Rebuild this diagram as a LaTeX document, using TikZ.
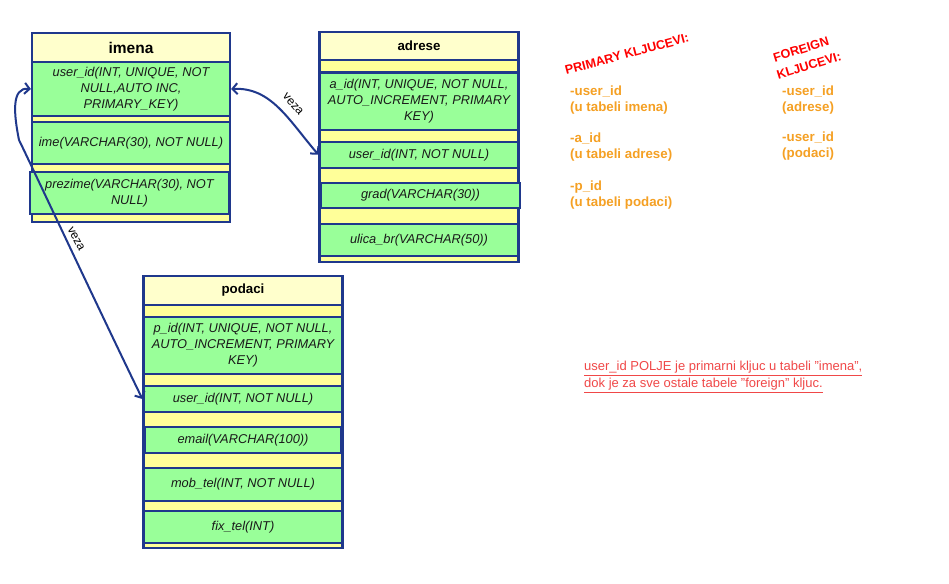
\documentclass[tikz,border=0pt]{standalone}
\usepackage{fontspec}
\setmainfont{Liberation Sans}
\usetikzlibrary{arrows.meta}
\definecolor{navy}{RGB}{31,56,140}
\definecolor{rowgreen}{RGB}{153,255,153}
\definecolor{stripe}{RGB}{255,255,153}
\definecolor{headfill}{RGB}{255,255,204}
\definecolor{keyorange}{RGB}{245,160,35}
\definecolor{notered}{RGB}{240,72,72}
\begin{document}
\begin{tikzpicture}[x=1pt,y=-1pt,
  tbl/.style={draw=navy, fill=stripe, line width=2.2pt, inner sep=0pt, rectangle},
  head/.style={draw=navy, fill=headfill, line width=2.2pt, inner sep=0pt, font=\bfseries\fontsize{13.3}{15}\selectfont},
  field/.style={draw=navy, fill=rowgreen, line width=2.2pt, inner sep=0pt, align=center, font=\itshape\fontsize{12.8}{16}\selectfont, text=black!90},
  conn/.style={draw=navy, line width=2pt, {Straight Barb[length=5pt,width=11pt]}-{Straight Barb[length=5pt,width=11pt]}},
  lbl/.style={font=\fontsize{12}{14}\selectfont, inner sep=1pt},
  redtitle/.style={font=\bfseries\fontsize{12.6}{15}\selectfont, text=red, inner sep=0pt},
  okey/.style={font=\bfseries\fontsize{13.3}{16}\selectfont, text=keyorange, align=left, anchor=west, inner sep=0pt},
  note/.style={font=\fontsize{13}{17}\selectfont, text=notered, align=left, anchor=west, inner sep=0pt}
]
\fill[white] (0,0) rectangle (949,583);
\useasboundingbox (0,0) rectangle (949,583);

% ---------- imena ----------
\node[tbl, minimum width=198pt, minimum height=189pt] (imena) at (131,127.5) {};
\node[head, minimum width=198pt, minimum height=29pt, font=\bfseries\fontsize{15.5}{17}\selectfont] (ihead) at (131,47.5) {imena};
\node[field, minimum width=198pt, minimum height=54pt] (iuid) at (131,89) {user\_id(INT, UNIQUE, NOT\\NULL,AUTO INC,\\PRIMARY\_KEY)};
\node[field, minimum width=198pt, minimum height=42pt] (iime) at (131,143) {ime(VARCHAR(30), NOT NULL)};
\node[field, minimum width=199pt, minimum height=42pt] (iprez) at (129.5,193) {prezime(VARCHAR(30), NOT\\NULL)};

% ---------- adrese ----------
\node[tbl, minimum width=199pt, minimum height=230pt] (adrese) at (419,147) {};
\node[head, minimum width=199pt, minimum height=28pt] (ahead) at (419,46) {adrese};
\node[field, minimum width=199pt, minimum height=57.5pt] (aaid) at (419,101.3) {a\_id(INT, UNIQUE, NOT NULL,\\AUTO\_INCREMENT, PRIMARY\\KEY)};
\node[field, minimum width=199pt, minimum height=26pt] (auid) at (419,154.7) {user\_id(INT, NOT NULL)};
\node[field, minimum width=199pt, minimum height=25.6pt] (agrad) at (420.5,195.5) {grad(VARCHAR(30))};
\node[field, minimum width=199pt, minimum height=31.7pt] (aulica) at (419,240) {ulica\_br(VARCHAR(50))};

% ---------- podaci ----------
\node[tbl, minimum width=199pt, minimum height=272pt] (podaci) at (243,412) {};
\node[head, minimum width=199pt, minimum height=29pt] (phead) at (243,290.5) {podaci};
\node[field, minimum width=199pt, minimum height=57pt] (ppid) at (243,345.5) {p\_id(INT, UNIQUE, NOT NULL,\\AUTO\_INCREMENT, PRIMARY\\KEY)};
\node[field, minimum width=199pt, minimum height=26pt] (puid) at (243,399) {user\_id(INT, NOT NULL)};
\node[field, minimum width=196pt, minimum height=26pt] (pemail) at (243,439.7) {email(VARCHAR(100))};
\node[field, minimum width=199pt, minimum height=32.4pt] (pmob) at (243,484.5) {mob\_tel(INT, NOT NULL)};
\node[field, minimum width=199pt, minimum height=32.6pt] (pfix) at (243,527) {fix\_tel(INT)};

% ---------- connectors ----------
\draw[conn] (iuid.east) .. controls +(40,-2) and +(-30,-35) .. (auid.west);
\node[lbl, rotate=-49] (veza1) at (293,104) {veza};

\coordinate (bend) at (19,140);
\draw[conn] (iuid.west) .. controls +(-20,-2) and +(-5,-25) .. (bend) .. controls +(8,16) and +(-40,-82) .. (puid.west);
\node[lbl, rotate=-62] (veza2) at (76,239) {veza};

% ---------- keys ----------
\node[redtitle, rotate=15] (pk) at (627,54) {PRIMARY KLJUCEVI:};
\node[redtitle, rotate=17] (fk1) at (801,49.5) {FOREIGN};
\node[redtitle, rotate=17] (fk2) at (809,65.5) {KLJUCEVI:};

\node[okey] (k1) at (570,100) {-user\_id\\(u tabeli imena)};
\node[okey] (k2) at (570,147.5) {-a\_id\\(u tabeli adrese)};
\node[okey] (k3) at (570,195.5) {-p\_id\\(u tabeli podaci)};

\node[okey] (f1) at (782,100) {-user\_id\\(adrese)};
\node[okey] (f2) at (782,146.5) {-user\_id\\(podaci)};

\node[note] (nt) at (584,377) {\underline{user\_id POLJE je primarni kljuc u tabeli "imena",}\\\underline{dok je za sve ostale tabele "foreign" kljuc.}};
\end{tikzpicture}
\end{document}
